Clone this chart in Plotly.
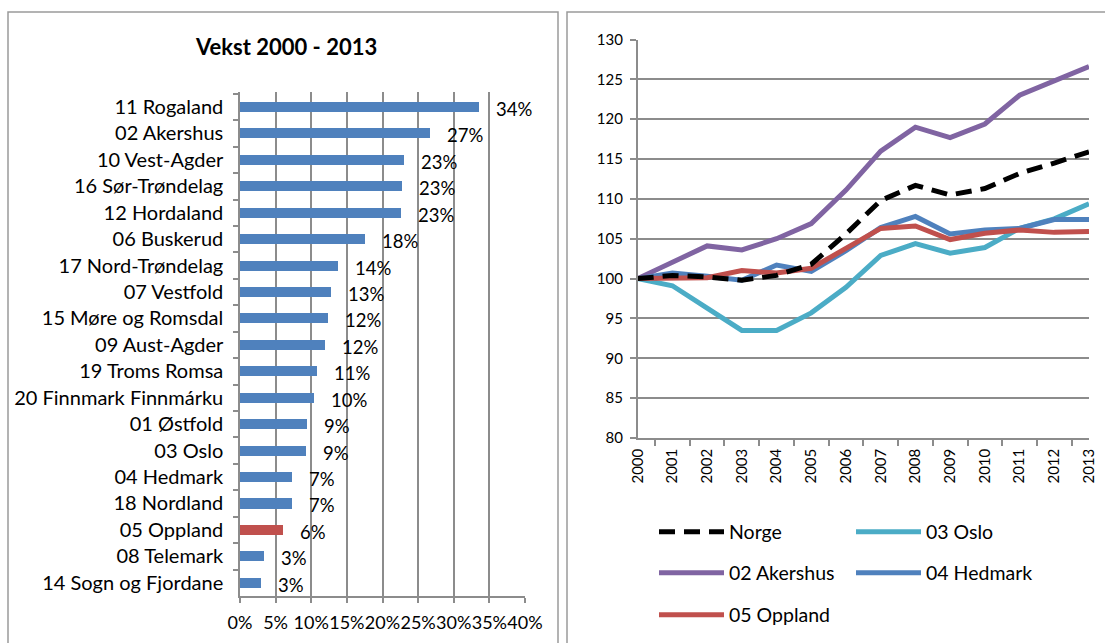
import plotly.graph_objects as go

W, H = 1105, 643

# ---------------- data: bar chart ----------------
regions = ["11 Rogaland", "02 Akershus", "10 Vest-Agder", "16 Sør-Trøndelag",
           "12 Hordaland", "06 Buskerud", "17 Nord-Trøndelag", "07 Vestfold",
           "15 Møre og Romsdal", "09 Aust-Agder", "19 Troms Romsa",
           "20 Finnmark Finnmárku", "01 Østfold", "03 Oslo", "04 Hedmark",
           "18 Nordland", "05 Oppland", "08 Telemark", "14 Sogn og Fjordane"]
growth = [0.336, 0.266, 0.230, 0.227, 0.226, 0.176, 0.138, 0.128, 0.124,
          0.119, 0.108, 0.104, 0.094, 0.093, 0.073, 0.073, 0.060, 0.034, 0.030]
highlight = "05 Oppland"
pct_ticks = [0, 0.05, 0.10, 0.15, 0.20, 0.25, 0.30, 0.35, 0.40]

# ---------------- data: line chart ----------------
years = ["2000", "2001", "2002", "2003", "2004", "2005", "2006",
         "2007", "2008", "2009", "2010", "2011", "2012", "2013"]
norge = [100, 100.4, 100.2, 99.8, 100.4, 101.8, 105.6, 109.8, 111.7, 110.5, 111.3, 113.2, 114.5, 115.9]
oslo = [100, 99.1, 96.3, 93.5, 93.5, 95.7, 98.9, 102.9, 104.4, 103.2, 103.9, 106.3, 107.5, 109.4]
akershus = [100, 102.1, 104.1, 103.6, 105.0, 106.9, 111.1, 116.0, 119.0, 117.7, 119.4, 123.0, 124.8, 126.6]
hedmark = [100, 100.7, 100.3, 99.8, 101.7, 100.9, 103.5, 106.4, 107.8, 105.6, 106.1, 106.3, 107.4, 107.4]
oppland = [100, 100.0, 100.1, 101.0, 100.7, 101.3, 103.8, 106.3, 106.6, 104.9, 105.7, 106.1, 105.8, 105.9]

FONT = "Lato"
BIG = 19.5
SMALL = 15
BLUE = "#4F81BD"
RED = "#C0504D"
GRID = "#8c8c8c"
TXT = "#000000"

fig = go.Figure()

bar_colors = [RED if r == highlight else BLUE for r in regions]
fig.add_trace(go.Bar(
    x=growth, y=regions, orientation="h", marker=dict(color=bar_colors, line=dict(width=0)),
    width=0.38, xaxis="x", yaxis="y", showlegend=False, hoverinfo="x+y"))

line_specs = [
    ("03 Oslo", oslo, "#4BACC6", "solid", "legend", 2),
    ("02 Akershus", akershus, "#8064A2", "solid", "legend2", 1),
    ("04 Hedmark", hedmark, BLUE, "solid", "legend2", 2),
    ("05 Oppland", oppland, RED, "solid", "legend3", 1),
    ("Norge", norge, "#000000", "16px,9px", "legend", 1),
]
for name, vals, col, dash, leg, rank in line_specs:
    fig.add_trace(go.Scatter(
        x=years, y=vals, mode="lines", name=name,
        line=dict(color=col, width=5, dash=dash),
        xaxis="x2", yaxis="y2", legend=leg, legendrank=rank))

annotations = []
for r, v in zip(regions, growth):
    annotations.append(dict(x=v, y=r, xref="x", yref="y", text=f"{round(v * 100)}%",
                            xanchor="left", xshift=15, yshift=-2, showarrow=False,
                            font=dict(family=FONT, size=18.5, color=TXT)))
annotations.append(dict(x=286 / W, y=1 - 47 / H, xref="paper", yref="paper",
                        text="<b>Vekst 2000 - 2013</b>", showarrow=False,
                        xanchor="center", yanchor="middle",
                        font=dict(family=FONT, size=22, color=TXT)))

shapes = [
    dict(type="rect", xref="paper", yref="paper", x0=8 / W, x1=558 / W,
         y0=-0.05, y1=1 - 12 / H, line=dict(color="#9a9a9a", width=1.5)),
    dict(type="rect", xref="paper", yref="paper", x0=567 / W, x1=1.05,
         y0=-0.05, y1=1 - 12 / H, line=dict(color="#9a9a9a", width=1.5)),
]

legend_common = dict(orientation="h", xanchor="left", yanchor="middle",
                     font=dict(family=FONT, size=BIG, color=TXT),
                     entrywidth=117, entrywidthmode="pixels",
                     bgcolor="rgba(0,0,0,0)", itemwidth=65)

fig.update_layout(
    width=W, height=H, margin=dict(l=0, r=0, t=0, b=0, autoexpand=False),
    paper_bgcolor="white", plot_bgcolor="white",
    font=dict(family=FONT, size=BIG, color=TXT),
    bargap=0,
    xaxis=dict(domain=[240 / W, 525 / W], range=[0, 0.40], tickvals=pct_ticks,
               tickformat=".0%", tickangle=0, showgrid=True, gridcolor=GRID, gridwidth=1.5,
               zeroline=False, showline=True, linecolor=GRID, linewidth=1.5,
               ticks="outside", ticklen=5, tickcolor=GRID, tickwidth=1.5,
               ticklabelstandoff=5,
               tickfont=dict(family=FONT, size=18, color=TXT), anchor="y"),
    yaxis=dict(domain=[1 - 596 / H, 1 - 92 / H], type="category",
               autorange="reversed", showline=True, linecolor=GRID, linewidth=1.5,
               ticks="outside", ticklen=5, tickcolor=GRID, tickwidth=1.5,
               tickson="boundaries", ticklabelstandoff=11, showgrid=False,
               tickfont=dict(family=FONT, size=20, color=TXT), anchor="x"),
    xaxis2=dict(domain=[637.7 / W, 1089 / W], type="category", tickangle=-90,
                showline=True, linecolor=GRID, linewidth=1.5, ticks="outside",
                ticklen=6, tickcolor=GRID, tickwidth=1.5, tickson="boundaries",
                showgrid=False, ticklabelstandoff=3,
                tickfont=dict(family=FONT, size=SMALL, color=TXT), anchor="y2"),
    yaxis2=dict(domain=[1 - 438 / H, 1 - 39.5 / H], range=[80, 130], dtick=5,
                showgrid=True, gridcolor=GRID, gridwidth=1.5, zeroline=False,
                showline=True, linecolor=GRID, linewidth=1.5, ticks="outside",
                ticklen=6, tickcolor=GRID, tickwidth=1.5, ticklabelstandoff=4,
                tickfont=dict(family=FONT, size=SMALL, color=TXT), anchor="x2"),
    legend=dict(x=654 / W, y=1 - 532 / H, **legend_common),
    legend2=dict(x=654 / W, y=1 - 573 / H, **legend_common),
    legend3=dict(x=654 / W, y=1 - 615 / H, **legend_common),
    annotations=annotations,
    shapes=shapes,
)

post = "document.body.style.margin='0';document.documentElement.style.overflow='hidden';"
fig.write_html("out.html", config={"displayModeBar": False}, post_script=post)
